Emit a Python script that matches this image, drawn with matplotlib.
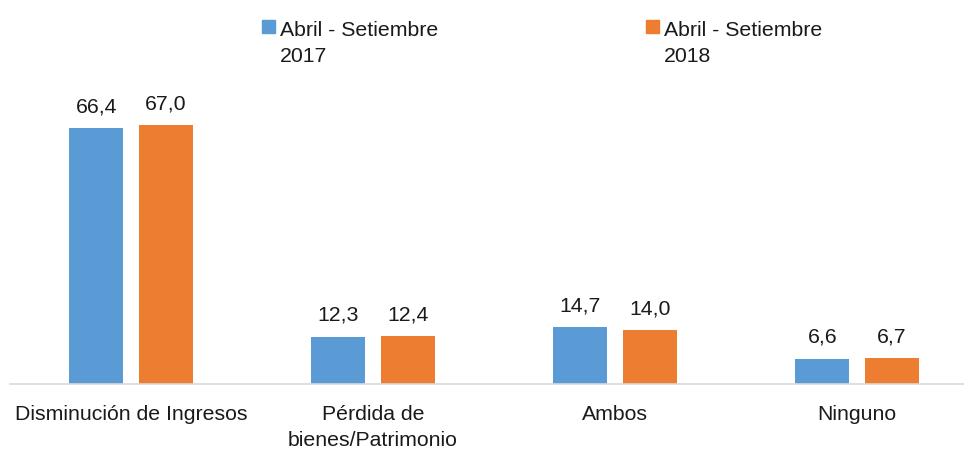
import matplotlib
matplotlib.use("Agg")
import matplotlib.pyplot as plt
import numpy as np
from matplotlib.patches import Rectangle

blue   = "#5B9BD5"
orange = "#ED7D31"

categories = ["Disminución de Ingresos", "Pérdida de\nbienes/Patrimonio", "Ambos", "Ninguno"]
series_names = ["Abril - Setiembre\n2017", "Abril - Setiembre\n2018"]
values_2017 = [66.4, 12.3, 14.7, 6.6]
values_2018 = [67.0, 12.4, 14.0, 6.7]

plt.rcParams['font.family'] = ['Liberation Sans', 'DejaVu Sans']
FS = 15.3


def fmt(v):
    return f"{v:.1f}".replace(".", ",")


def main(name="out.png"):
    fig = plt.figure(figsize=(9.64, 4.5), dpi=100)
    # baseline at y=384px, left edge at x=10px, axis runs off the right side
    ax = fig.add_axes([10 / 964, 66 / 450, 968 / 964, 80 * 3.86 / 450])

    x = np.arange(len(categories))
    w = 0.223
    off = 0.143
    for vals, col, dx in [(values_2017, blue, -off), (values_2018, orange, off)]:
        bars = ax.bar(x + dx, vals, width=w, color=col, zorder=2)
        for b, v in zip(bars, vals):
            ax.annotate(fmt(v), (b.get_x() + b.get_width() / 2, v),
                        xytext=(0, 8.3), textcoords="offset points",
                        ha="center", va="bottom", fontsize=FS, color="#1a1a1a")

    ax.set_xlim(-0.5, len(categories) - 0.5)
    ax.set_ylim(0, 80)
    ax.set_xticks(x)
    ax.set_xticklabels(categories, fontsize=FS, color="#1a1a1a", linespacing=1.5)
    ax.tick_params(axis="x", length=0, pad=15)
    ax.set_yticks([])
    for s in ["top", "right", "left"]:
        ax.spines[s].set_visible(False)
    ax.spines["bottom"].set_color("#D9D9D9")
    ax.spines["bottom"].set_linewidth(1.2)

    # legend, squares aligned with the first line of each label
    for lx, col, lab in [(262, blue, series_names[0]), (646, orange, series_names[1])]:
        fig.add_artist(Rectangle((lx / 964, 1 - 33 / 450), 13 / 964, 13 / 450,
                                 transform=fig.transFigure, color=col))
        fig.text((lx + 18) / 964, 1 - 21 / 450, lab, fontsize=FS, color="#1a1a1a",
                 ha="left", va="top", linespacing=1.5)

    fig.savefig(name, dpi=100)


if __name__ == "__main__":
    main()
